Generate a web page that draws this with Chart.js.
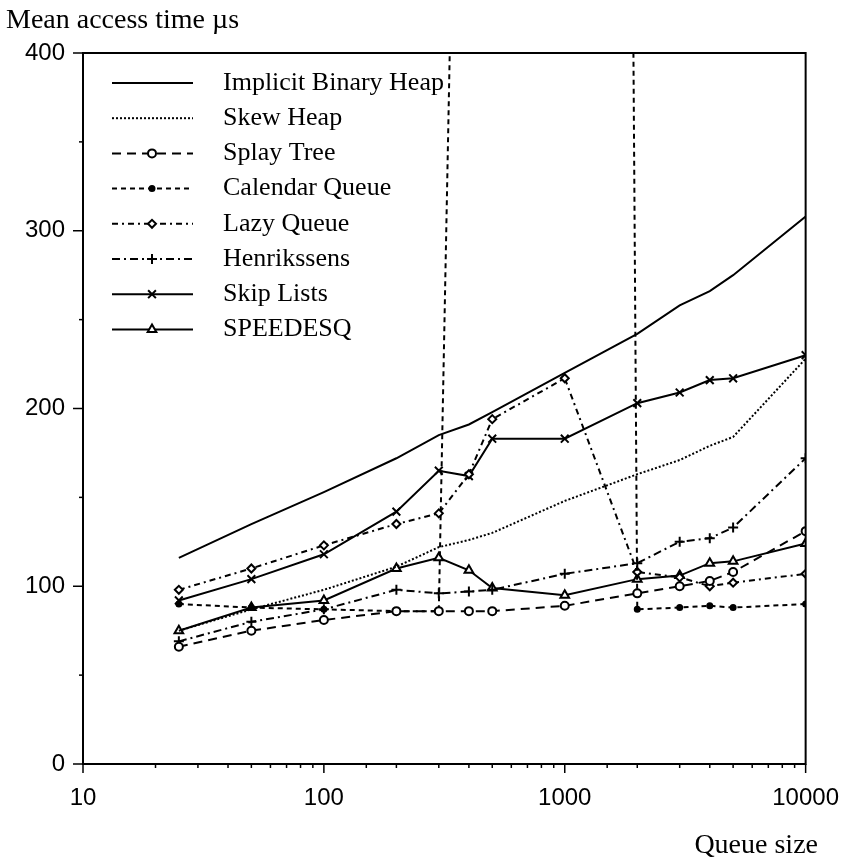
<!DOCTYPE html>
<html>
<head>
<meta charset="utf-8">
<script src="https://cdn.jsdelivr.net/npm/chart.js@4.4.1/dist/chart.umd.min.js"></script>
<style>
  body { margin: 0; background: #fff; }
  canvas { display: block; }
</style>
</head>
<body>
<canvas id="myChart" width="859" height="859"></canvas>
<script>
// queue sizes (x) and mean access times (y, microseconds)
var queueSizes = [25, 50, 100, 200, 300, 400, 500, 1000, 2000, 3000, 4000, 5000, 10000];

var implicitHeap = [116, 135, 153, 172, 185, 191, 198, 220, 242, 258, 266, 275, 308];
var skewHeap     = [75, 87, 98, 111, 122, 126, 130, 148, 163, 171, 179, 184, 228];
var splayTree    = [66, 75, 81, 86, 86, 86, 86, 89, 96, 100, 103, 108, 131];
var calendarQ    = [90, 88, 87, 86, 86, 950, 3000, 6000, 87, 88, 89, 88, 90];
var lazyQueue    = [98, 110, 123, 135, 141, 163, 194, 217, 108, 105, 100, 102, 107];
var henrikssens  = [69, 80, 87, 98, 96, 97, 98, 107, 113, 125, 127, 133, 172];
var skipLists    = [92, 104, 118, 142, 165, 162, 183, 183, 203, 209, 216, 217, 230];
var speedesq     = [75, 88, 92, 110, 116, 109, 99, 95, 104, 106, 113, 114, 124];

var yTicks = [0, 100, 200, 300, 400];
var xTickLabels = [10, 100, 1000, 10000];

function pts(arr) {
  return queueSizes.map(function (q, i) { return { x: q, y: arr[i] }; });
}

var serif = '"Liberation Serif", "Times New Roman", serif';
var sans = '"Liberation Sans", Arial, sans-serif';

function series(label, data, dash, style, radius, fill) {
  return {
    label: label,
    data: pts(data),
    borderColor: '#000',
    backgroundColor: fill ? '#000' : '#fff',
    borderWidth: 2,
    borderDash: dash,
    tension: 0,
    fill: false,
    pointStyle: style || 'circle',
    pointRadius: radius || 0,
    pointBorderWidth: 2,
    pointBackgroundColor: fill ? '#000' : '#fff',
    pointBorderColor: '#000',
  };
}

// draws frame, tick marks, legend and the loose texts
var decor = {
  id: 'decor',
  afterDraw: function (chart) {
    var c = chart.ctx, a = chart.chartArea;
    var xs = chart.scales.x, ys = chart.scales.y;
    c.save();
    c.strokeStyle = '#000';
    c.lineWidth = 2;
    c.strokeRect(a.left, a.top, a.right - a.left, a.bottom - a.top);

    // x ticks
    c.lineWidth = 1.5;
    xs.ticks.forEach(function (t) {
      var px = xs.getPixelForValue(t.value);
      var lg = Math.log10(t.value);
      var len = Math.abs(lg - Math.round(lg)) < 1e-6 ? 9 : 4;
      c.beginPath();
      c.moveTo(px, a.bottom);
      c.lineTo(px, a.bottom + len);
      c.stroke();
    });
    // y ticks
    ys.ticks.forEach(function (t) {
      var py = ys.getPixelForValue(t.value);
      var len = t.value % 100 === 0 ? 10 : 4;
      c.beginPath();
      c.moveTo(a.left, py);
      c.lineTo(a.left - len, py);
      c.stroke();
    });

    // legend
    c.textBaseline = 'middle';
    c.textAlign = 'left';
    c.font = '26px ' + serif;
    c.fillStyle = '#000';
    chart.data.datasets.forEach(function (ds, i) {
      var y = 83 + i * 35.2;
      c.save();
      c.lineWidth = ds.borderWidth;
      c.setLineDash(ds.borderDash || []);
      c.beginPath();
      c.moveTo(112, y);
      c.lineTo(193, y);
      c.stroke();
      c.restore();
      if (ds.pointRadius > 0) {
        c.save();
        c.lineWidth = ds.pointBorderWidth;
        c.fillStyle = ds.pointBackgroundColor;
        Chart.helpers.drawPoint(c, { pointStyle: ds.pointStyle, radius: ds.pointRadius, borderWidth: ds.pointBorderWidth }, 152, y);
        c.restore();
      }
      c.fillText(ds.label, 223, y);
    });

    // axis titles
    c.font = '28px ' + serif;
    c.textBaseline = 'alphabetic';
    c.fillText('Mean access time \u00b5s', 6, 28);
    c.textAlign = 'right';
    c.fillText('Queue size', 818, 853);
    c.restore();
  }
};

var ctx = document.getElementById('myChart').getContext('2d');
var chart = new Chart(ctx, {
  type: 'line',
  data: {
    datasets: [
      series('Implicit Binary Heap', implicitHeap, []),
      series('Skew Heap', skewHeap, [2, 2]),
      series('Splay Tree', splayTree, [9, 6], 'circle', 4),
      series('Calendar Queue', calendarQ, [5, 4], 'circle', 2.5, true),
      series('Lazy Queue', lazyQueue, [6, 4, 2, 4], 'rectRot', 4),
      series('Henrikssens', henrikssens, [8, 4, 2, 4], 'cross', 5),
      series('Skip Lists', skipLists, [], 'crossRot', 5.5),
      series('SPEEDESQ', speedesq, [], 'triangle', 5),
    ]
  },
  options: {
    responsive: false,
    animation: false,
    layout: { padding: { top: 53, right: 47, left: 0, bottom: 0 } },
    plugins: {
      legend: { display: false },
      tooltip: { enabled: false },
    },
    scales: {
      x: {
        type: 'logarithmic',
        min: 10,
        max: 10000,
        grid: { display: false, drawTicks: false },
        border: { display: true, color: '#000', width: 2 },
        afterFit: function (s) { s.height = 859 - 764; },
        ticks: {
          padding: 20,
          color: '#000',
          font: { family: sans, size: 24 },
          autoSkip: false,
          maxRotation: 0,
          callback: function (v) {
            return xTickLabels.indexOf(v) >= 0 ? String(v) : '';
          }
        }
      },
      y: {
        min: 0,
        max: 400,
        grid: { display: false, drawTicks: false },
        border: { display: true, color: '#000', width: 2 },
        afterFit: function (s) { s.width = 83; },
        ticks: {
          stepSize: 50,
          padding: 18,
          color: '#000',
          font: { family: sans, size: 24 },
          callback: function (v) {
            return yTicks.indexOf(v) >= 0 ? String(v) : '';
          }
        }
      }
    }
  },
  plugins: [decor]
});
</script>
</body>
</html>
